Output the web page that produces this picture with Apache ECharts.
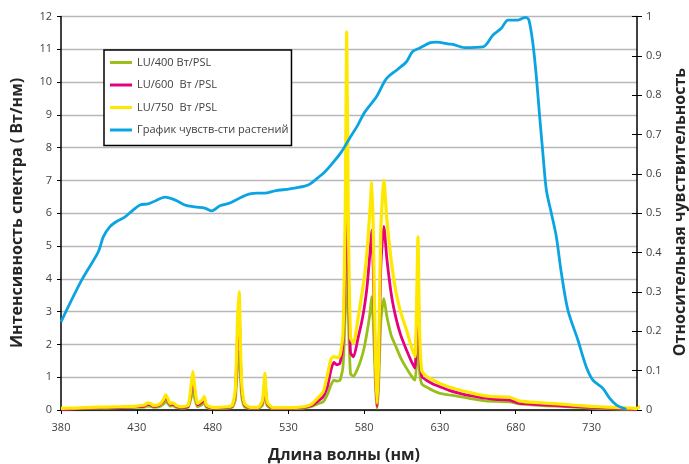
<!DOCTYPE html>
<html>
<head>
<meta charset="utf-8">
<script src="https://cdn.jsdelivr.net/npm/echarts@6/dist/echarts.min.js"></script>
<style>
  html, body { margin: 0; padding: 0; background: #fff; }
  #chart { width: 689px; height: 464px; }
</style>
</head>
<body>
<div id="chart"></div>
<script>
// wavelength grid for the lamp spectra (nm)
var spectrumNm = [380, 390, 400, 410, 420, 430, 435, 437, 439, 441, 445, 448, 449, 450, 452, 454, 456, 460, 464, 466, 467, 468, 470, 473, 474.5, 476, 480, 490, 493, 495, 496.5, 497.5, 499, 501, 505, 510, 513, 514.5, 516, 520, 530, 540, 545, 549, 553, 556, 558, 560, 562, 564, 566, 567.5, 568.5, 569.5, 571, 573, 576, 578, 580, 582, 584, 585, 586, 587.5, 588.5, 589.5, 591, 593, 595, 598, 601, 604, 608, 611, 613.5, 614.5, 615.5, 616.5, 618, 622, 626, 630, 636, 643, 650, 660, 668, 676, 682, 690, 700, 710, 720, 730, 740, 750, 755, 760, 762, 763.5, 765, 766.5, 768, 769.3];

// LU/400 Вт/PSL (Вт/нм)
var lu400 = [0.03, 0.04, 0.05, 0.06, 0.07, 0.08, 0.09, 0.12, 0.11, 0.08, 0.1, 0.2, 0.25, 0.22, 0.12, 0.13, 0.08, 0.06, 0.09, 0.4, 0.6, 0.4, 0.1, 0.16, 0.22, 0.08, 0.05, 0.06, 0.08, 0.3, 1.4, 1.8, 0.5, 0.1, 0.05, 0.05, 0.15, 0.6, 0.13, 0.04, 0.04, 0.06, 0.1, 0.18, 0.25, 0.5, 0.75, 0.91, 0.88, 0.9, 1.3, 3.0, 5.5, 3.0, 1.1, 1.03, 1.3, 1.55, 1.9, 2.4, 3.0, 3.46, 2.7, 0.7, 0.05, 0.7, 2.7, 3.4, 2.85, 2.25, 1.93, 1.6, 1.27, 1.05, 0.91, 1.4, 2.3, 1.2, 0.8, 0.68, 0.58, 0.51, 0.46, 0.41, 0.35, 0.28, 0.26, 0.25, 0.19, 0.16, 0.13, 0.11, 0.08, 0.06, 0.04, 0.03, 0.02, 0.02, null, null, null, null, null, null];

// LU/600 Вт/PSL
var lu600 = [0.02, 0.04, 0.06, 0.07, 0.08, 0.1, 0.12, 0.18, 0.16, 0.11, 0.15, 0.3, 0.38, 0.33, 0.17, 0.18, 0.11, 0.08, 0.12, 0.65, 0.95, 0.65, 0.16, 0.24, 0.33, 0.12, 0.06, 0.08, 0.12, 0.5, 2.3, 3.0, 0.8, 0.16, 0.06, 0.06, 0.25, 0.9, 0.2, 0.05, 0.05, 0.08, 0.13, 0.25, 0.41, 0.75, 1.2, 1.45, 1.38, 1.42, 2.0, 4.5, 8.0, 4.5, 1.75, 1.62, 2.2, 2.6, 3.1, 3.8, 4.9, 5.49, 4.3, 1.2, 0.1, 1.2, 4.4, 5.6, 4.6, 3.5, 2.8, 2.3, 1.82, 1.5, 1.28, 2.4, 4.1, 2.0, 1.02, 0.88, 0.78, 0.71, 0.6, 0.51, 0.44, 0.36, 0.32, 0.3, 0.21, 0.18, 0.15, 0.13, 0.1, 0.08, 0.06, 0.04, 0.03, 0.02, null, null, null, null, null, null];

// LU/750 Вт/PSL
var lu750 = [0.05, 0.06, 0.08, 0.09, 0.1, 0.12, 0.15, 0.22, 0.2, 0.14, 0.18, 0.35, 0.46, 0.4, 0.2, 0.22, 0.14, 0.1, 0.15, 0.8, 1.17, 0.8, 0.2, 0.3, 0.41, 0.15, 0.08, 0.1, 0.15, 0.6, 2.8, 3.61, 1.0, 0.2, 0.08, 0.08, 0.3, 1.12, 0.25, 0.07, 0.07, 0.1, 0.17, 0.35, 0.56, 1.12, 1.55, 1.63, 1.6, 1.65, 2.3, 6.0, 11.53, 6.0, 2.2, 2.05, 2.8, 3.4, 4.0, 4.9, 6.2, 6.96, 5.5, 1.5, 0.2, 1.5, 5.5, 7.0, 5.8, 4.5, 3.6, 3.0, 2.43, 1.95, 1.63, 3.0, 5.28, 2.5, 1.2, 1.0, 0.9, 0.81, 0.7, 0.61, 0.53, 0.43, 0.4, 0.39, 0.28, 0.24, 0.21, 0.18, 0.14, 0.11, 0.09, 0.07, 0.06, 0.05, 0.1, 0.02, 0.42, 0.08, 0.46, 0.55];

// plant sensitivity curve (relative, right axis)
var sensNm = [380, 393.6, 404.6, 407.9, 412.3, 416.7, 422, 427.5, 432.1, 437.4, 442, 448.6, 455.1, 461.7, 468.3, 474.9, 479.5, 484.8, 491.4, 498, 504.6, 509.9, 514.5, 521.1, 531, 540.8, 544.1, 549.4, 554, 559.3, 565, 570.5, 575.8, 580.4, 588.1, 594.7, 602.2, 607.9, 612, 616.7, 623.2, 627.7, 636.4, 638.6, 646.3, 658.4, 665, 670.5, 674.9, 681.5, 686.5, 688.7, 691.3, 693.6, 695.8, 697.9, 700.2, 703.5, 706.8, 710.1, 714.4, 721, 726.5, 730.9, 737.5, 741.9, 746.3, 752.9];
var sensVal = [0.224, 0.33, 0.402, 0.44, 0.466, 0.479, 0.49, 0.508, 0.521, 0.524, 0.531, 0.541, 0.534, 0.521, 0.516, 0.513, 0.506, 0.519, 0.526, 0.539, 0.549, 0.551, 0.551, 0.557, 0.562, 0.569, 0.574, 0.59, 0.605, 0.628, 0.656, 0.691, 0.724, 0.757, 0.796, 0.842, 0.866, 0.885, 0.911, 0.92, 0.933, 0.935, 0.93, 0.929, 0.921, 0.923, 0.953, 0.97, 0.991, 0.991, 0.998, 0.991, 0.932, 0.847, 0.745, 0.653, 0.559, 0.5, 0.44, 0.348, 0.254, 0.178, 0.11, 0.076, 0.055, 0.03, 0.013, 0.002];

var seriesNames = ['LU/400 Вт/PSL', 'LU/600  Вт /PSL', 'LU/750  Вт /PSL', 'График чувств-сти растений'];
var seriesColors = ['#9bbf1a', '#e6007e', '#ffe800', '#0ba4e2'];

function pairs(xs, ys) {
  return xs.map(function (x, i) { return [x, ys[i]]; });
}

var labelFont = { color: '#404040', fontSize: 11, fontFamily: 'Open Sans' };
var titleFont = 'bold 16px "Open Sans"';

var chart = echarts.init(document.getElementById('chart'), null, { renderer: 'canvas' });

var option = {
  animation: false,
  backgroundColor: '#fff',
  grid: { left: 61, right: 52, top: 16.5, bottom: 54 },
  legend: {
    orient: 'vertical',
    left: 104,
    top: 50,
    padding: [7, 3, 10, 6],
    itemGap: 11.5,
    itemWidth: 22,
    itemHeight: 11,
    icon: 'path://M0,0 L22,0 L22,3 L0,3 Z',
    symbolKeepAspect: true,
    borderColor: '#000',
    borderWidth: 1.5,
    backgroundColor: '#fff',
    textStyle: { color: '#404040', fontSize: 11, fontFamily: 'Open Sans' },
    data: seriesNames
  },
  xAxis: {
    type: 'value',
    min: 380,
    max: 760,
    interval: 50,
    axisLine: { lineStyle: { color: '#000', width: 1.5 } },
    axisTick: { length: 4, lineStyle: { color: '#000' } },
    axisLabel: Object.assign({ margin: 12, showMaxLabel: false }, labelFont),
    splitLine: { show: false }
  },
  yAxis: [
    {
      type: 'value',
      min: 0,
      max: 12,
      interval: 1,
      axisLine: { show: true, lineStyle: { color: '#000', width: 1.5 } },
      axisTick: { show: true, length: 4, lineStyle: { color: '#000' } },
      axisLabel: Object.assign({ margin: 9 }, labelFont),
      splitLine: { lineStyle: { color: '#b8b8b8', width: 1.4 } }
    },
    {
      type: 'value',
      position: 'right',
      min: 0,
      max: 1,
      interval: 0.1,
      axisLine: { show: true, lineStyle: { color: '#000', width: 1.5 } },
      axisTick: { show: true, length: 5, lineStyle: { color: '#000' } },
      axisLabel: Object.assign({ margin: 9 }, labelFont),
      splitLine: { show: false }
    },
    {
      // inner half of the right-hand ticks
      type: 'value',
      position: 'right',
      min: 0,
      max: 1,
      interval: 0.1,
      axisLine: { show: false },
      axisTick: { show: true, inside: true, length: 5, lineStyle: { color: '#000' } },
      axisLabel: { show: false },
      splitLine: { show: false }
    }
  ],
  series: [
    {
      name: seriesNames[0], type: 'line', symbol: 'none', smooth: 0.2,
      lineStyle: { color: seriesColors[0], width: 2.8 }, itemStyle: { color: seriesColors[0] },
      data: pairs(spectrumNm, lu400)
    },
    {
      name: seriesNames[1], type: 'line', symbol: 'none', smooth: 0.2,
      lineStyle: { color: seriesColors[1], width: 2.8 }, itemStyle: { color: seriesColors[1] },
      data: pairs(spectrumNm, lu600)
    },
    {
      name: seriesNames[2], type: 'line', symbol: 'none', smooth: 0.2, clip: false,
      lineStyle: { color: seriesColors[2], width: 3.2 }, itemStyle: { color: seriesColors[2] },
      data: pairs(spectrumNm, lu750)
    },
    {
      name: seriesNames[3], type: 'line', symbol: 'none', smooth: 0.3, yAxisIndex: 1,
      lineStyle: { color: seriesColors[3], width: 2.8 }, itemStyle: { color: seriesColors[3] },
      data: pairs(sensNm, sensVal)
    }
  ],
  graphic: [
    {
      type: 'text', x: 17, y: 213, rotation: Math.PI / 2,
      style: { text: 'Интенсивность спектра ( Вт/нм)', font: titleFont, fill: '#262626', align: 'center', verticalAlign: 'middle' }
    },
    {
      type: 'text', x: 680, y: 212, rotation: Math.PI / 2,
      style: { text: 'Относительная чувствительность', font: titleFont, fill: '#262626', align: 'center', verticalAlign: 'middle' }
    },
    {
      type: 'text', x: 344, y: 455,
      style: { text: 'Длина волны (нм)', font: titleFont, fill: '#262626', align: 'center', verticalAlign: 'middle' }
    }
  ]
};

chart.setOption(option);
</script>
</body>
</html>
